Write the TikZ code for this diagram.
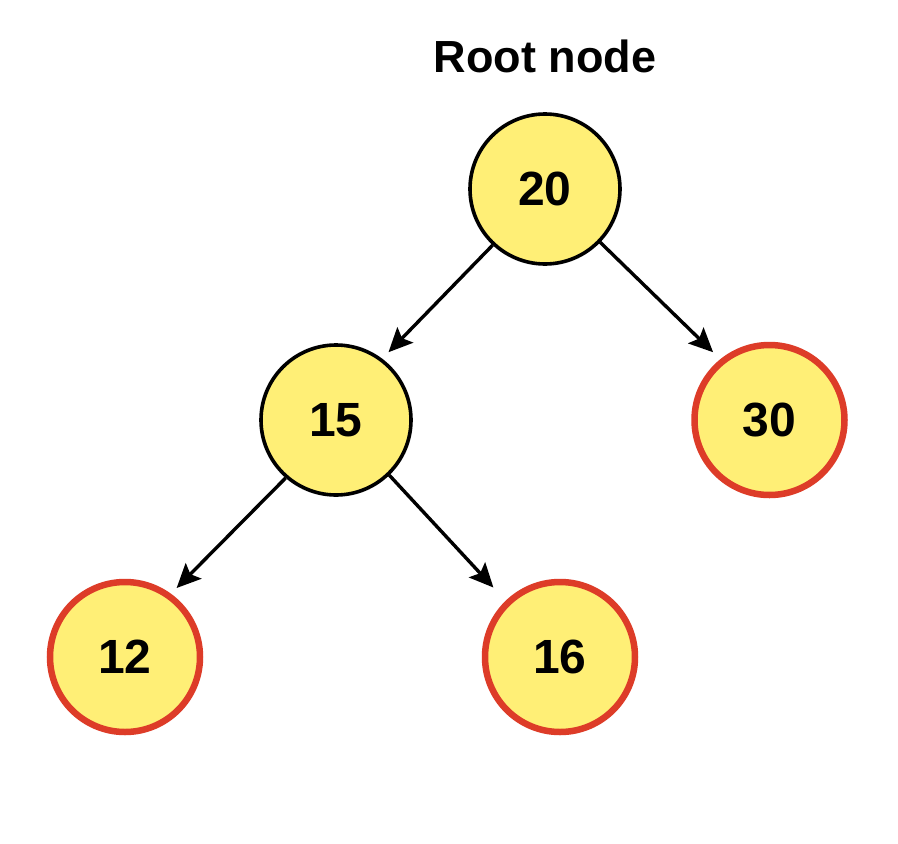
\documentclass[tikz,border=0pt]{standalone}
\usepackage{fontspec}
\setmainfont{Liberation Sans}
\usetikzlibrary{arrows.meta}
\definecolor{nodefill}{HTML}{FFEF76}
\definecolor{leafred}{HTML}{DD3C28}
\begin{document}
\begin{tikzpicture}[x=1pt,y=1pt,
  treenode/.style={circle, minimum size=150pt, inner sep=0pt, fill=nodefill,
    draw=black, line width=3.6pt, font=\fontsize{48}{52}\selectfont\bfseries},
  leafnode/.style={treenode, draw=leafred, line width=6.5pt},
  edge/.style={line width=3.4pt, -{Stealth[length=24pt,width=22pt,inset=4.5pt]}}]
\useasboundingbox (0,0) rectangle (898,-844);
\fill[white] (0,0) rectangle (898,-844);
\node[anchor=base, font=\fontsize{45}{50}\selectfont\bfseries] (title) at (545,-72) {Root node};
\node[treenode] (n20) at (545,-189) {20};
\node[treenode] (n15) at (336,-420) {15};
\node[leafnode] (n30) at (769.5,-420) {30};
\node[leafnode] (n12) at (125,-657) {12};
\node[leafnode] (n16) at (560,-657) {16};
\draw[edge, shorten >=9pt] (n20.-133) -- (n15.53.5);
\draw[edge, shorten >=10pt] (n20.-44) -- (n30.129.7);
\draw[edge, shorten >=8pt] (n15.229.2) -- (n12.54.8);
\draw[edge, shorten >=18pt] (n15.-46.6) -- (n16.134.2);
\end{tikzpicture}
\end{document}
